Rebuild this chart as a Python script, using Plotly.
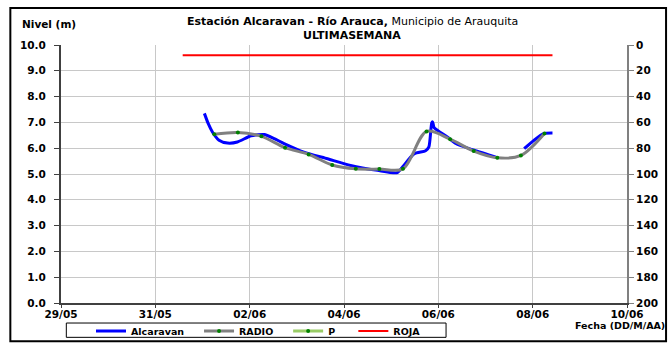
import plotly.graph_objects as go
from datetime import datetime, timedelta

BASE = datetime(2023, 5, 29)

def t(d):
    return BASE + timedelta(days=d) if d is not None else None

# Alcaravan (blue) - day offsets from 29/05 and levels (m)
alc_days = [3.04, 3.12, 3.21, 3.35, 3.53, 3.74, 4.03, 4.31, 4.52, 4.73, 5.15, 5.65, 6.14,
            6.71, 7.13, 7.24, 7.49, 7.73, 7.80, 7.86, 7.88, 7.91, 8.19, 8.37, 8.76, 9.25,
            None, 9.82, 10.03, 10.24, 10.42]
alc_vals = [7.35, 6.96, 6.63, 6.31, 6.20, 6.24, 6.48, 6.53, 6.37, 6.18, 5.85, 5.59, 5.33,
            5.14, 5.05, 5.27, 5.79, 5.90, 6.05, 6.98, 7.02, 6.80, 6.44, 6.18, 5.92, 5.63,
            None, 5.98, 6.31, 6.57, 6.59]

# RADIO (gray with green markers)
radio_days = [3.25, 3.75, 4.25, 4.75, 5.25, 5.75, 6.25, 6.75, 7.25, 7.75, 8.25, 8.75,
              9.25, 9.75, 10.25]
radio_vals = [6.54, 6.61, 6.46, 6.02, 5.76, 5.35, 5.20, 5.19, 5.20, 6.65, 6.35, 5.89,
              5.63, 5.72, 6.57]

# P (no data shown)
p_days = [None]
p_vals = [None]

# ROJA alert level
roja_days = [2.58, 10.42]
roja_vals = [9.6, 9.6]

y_ticks = [0, 1, 2, 3, 4, 5, 6, 7, 8, 9, 10]
y2_ticks = [0, 20, 40, 60, 80, 100, 120, 140, 160, 180, 200]

FONT = "DejaVu Sans, Verdana, sans-serif"
NB = "\u00a0"

fig = go.Figure()
fig.add_trace(go.Scatter(x=[t(d) for d in alc_days], y=alc_vals,
                         mode="lines", name="Alcaravan" + NB * 3, connectgaps=False,
                         line=dict(color="#0000ff", width=3, shape="spline", smoothing=0.6)))
fig.add_trace(go.Scatter(x=[t(d) for d in radio_days], y=radio_vals, mode="lines+markers",
                         name="RADIO" + NB * 3,
                         line=dict(color="#808080", width=3, shape="spline", smoothing=0.9),
                         marker=dict(color="#008000", size=4)))
fig.add_trace(go.Scatter(x=[t(d) for d in p_days], y=p_vals, mode="lines+markers",
                         name="P" + NB * 4,
                         line=dict(color="#99cc66", width=3),
                         marker=dict(color="#008000", size=4)))
fig.add_trace(go.Scatter(x=[t(d) for d in roja_days], y=roja_vals, mode="lines", name="ROJA",
                         line=dict(color="#ff0000", width=2)))
fig.add_trace(go.Scatter(x=[None], y=[None], yaxis="y2", showlegend=False, hoverinfo="skip"))

font_b = dict(family=FONT, size=10.5, color="black", weight="bold")

fig.update_layout(
    width=668, height=343,
    margin=dict(l=60.7, r=41, t=45, b=40.3, pad=0, autoexpand=False),
    paper_bgcolor="white", plot_bgcolor="white",
    font=dict(family=FONT, color="black"),
    xaxis=dict(range=[t(0), t(12)], tickformat="%d/%m", dtick=2 * 86400000,
               tick0=t(0), showgrid=True, gridcolor="#c8c8c8", gridwidth=1,
               showline=True, linecolor="#404040", linewidth=2, ticks="outside",
               ticklen=3, tickcolor="#404040", tickfont=font_b, zeroline=False,
               automargin=False, ticklabelstandoff=-3),
    yaxis=dict(range=[0, 10], tickvals=y_ticks, ticktext=[f"{v:.1f}" for v in y_ticks],
               showgrid=True, gridcolor="#c8c8c8", gridwidth=1, showline=True,
               linecolor="#404040", linewidth=2, ticks="outside", ticklen=5,
               tickcolor="#404040", tickfont=font_b, zeroline=False, automargin=False,
               ticklabelstandoff=6),
    yaxis2=dict(range=[200, 0], tickvals=y2_ticks, overlaying="y", side="right",
                showgrid=False, showline=True, linecolor="#808080", linewidth=2,
                ticks="outside", ticklen=5, tickcolor="#808080", tickfont=font_b,
                zeroline=False, automargin=False),
    legend=dict(orientation="h", x=0.053, y=-0.1087, xanchor="left", yanchor="middle",
                borderwidth=0, bgcolor="rgba(0,0,0,0)",
                font=dict(family=FONT, size=9.5, weight="bold", color="black"),
                tracegroupgap=0),
    showlegend=True,
)

fig.add_annotation(text="<b>Estación Alcaravan - Río Arauca,</b> Municipio de Arauquita",
                   xref="paper", yref="paper", x=0.5144, y=1.0893, xanchor="center",
                   yanchor="middle", showarrow=False,
                   font=dict(family=FONT, size=11, color="black"))
fig.add_annotation(text="<b>ULTIMASEMANA</b>",
                   xref="paper", yref="paper", x=0.5144, y=1.0349, xanchor="center",
                   yanchor="middle", showarrow=False,
                   font=dict(family=FONT, size=11, color="black"))
fig.add_annotation(text="<b>Nivel (m)</b>", xref="paper", yref="paper", x=-0.0719, y=1.0815,
                   xanchor="left", yanchor="middle", showarrow=False,
                   font=dict(family=FONT, size=10.5, color="black"))
fig.add_annotation(text="<b>Fecha (DD/M/AA)</b>", xref="paper", yref="paper", x=1.0706,
                   y=-0.088, xanchor="right", yanchor="middle", showarrow=False,
                   font=dict(family=FONT, size=9.5, color="black"))
fig.add_shape(type="rect", xref="paper", yref="paper", x0=-0.0895, x1=1.069, y0=-0.1486,
              y1=1.1436, line=dict(color="black", width=2), fillcolor="rgba(0,0,0,0)")
fig.add_shape(type="rect", xref="paper", yref="paper", x0=0.0094, x1=0.6803, y0=-0.1331,
              y1=-0.0776, line=dict(color="black", width=1), fillcolor="rgba(0,0,0,0)")

fig.write_html("out.html", config={"displayModeBar": False},
               post_script="document.body.style.margin='0';")
